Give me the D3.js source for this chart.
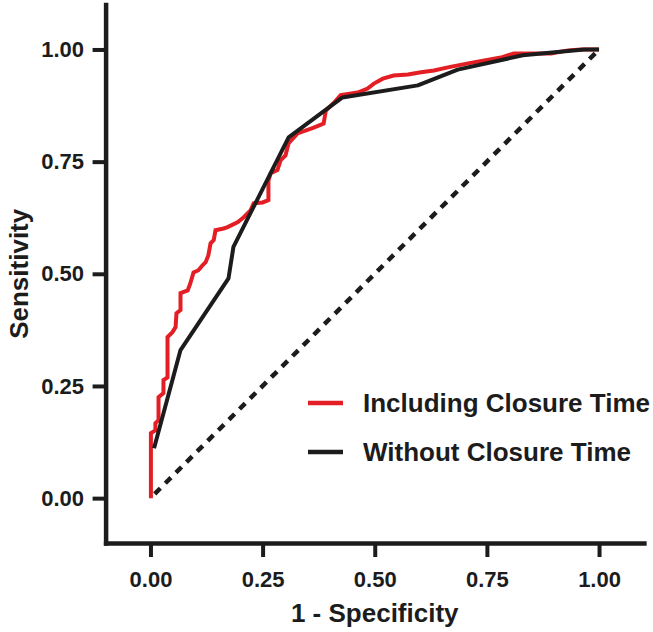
<!DOCTYPE html>
<html>
<head>
<meta charset="utf-8">
<script src="https://cdn.jsdelivr.net/npm/d3@7"></script>
<style>
  body { margin: 0; background: #fff; }
  svg { display: block; font-family: "Liberation Sans", Arial, sans-serif; font-weight: bold; }
</style>
</head>
<body>
<div class="chart"></div>
<script>
// ROC curve, including closure time (staircase vertices)
const includingFpr = [0.001, 0.001, 0.011, 0.011, 0.018, 0.018, 0.029, 0.029, 0.038, 0.038,
  0.049, 0.056, 0.058, 0.067, 0.067, 0.083, 0.089, 0.096, 0.107, 0.116,
  0.123, 0.129, 0.134, 0.141, 0.145, 0.163, 0.172, 0.194, 0.208, 0.223,
  0.230, 0.250, 0.263, 0.263, 0.268, 0.283, 0.290, 0.301, 0.308, 0.328,
  0.364, 0.386, 0.391, 0.408, 0.424, 0.462, 0.484, 0.498, 0.518, 0.542,
  0.574, 0.603, 0.632, 0.663, 0.708, 0.781, 0.810, 0.893, 0.931, 0.960, 1.000];
const includingTpr = [0.000, 0.145, 0.151, 0.167, 0.174, 0.225, 0.234, 0.263, 0.269, 0.359,
  0.370, 0.381, 0.412, 0.419, 0.457, 0.463, 0.479, 0.503, 0.508, 0.519,
  0.526, 0.541, 0.568, 0.575, 0.597, 0.601, 0.604, 0.615, 0.626, 0.641,
  0.657, 0.659, 0.664, 0.708, 0.724, 0.731, 0.753, 0.764, 0.791, 0.813,
  0.826, 0.835, 0.864, 0.880, 0.898, 0.904, 0.913, 0.924, 0.935, 0.942,
  0.944, 0.949, 0.953, 0.960, 0.969, 0.982, 0.991, 0.991, 0.998, 1.000, 1.000];

// ROC curve, without closure time
const withoutFpr = [0.008, 0.067, 0.174, 0.185, 0.308, 0.428, 0.596, 0.685, 0.830, 0.967, 1.000];
const withoutTpr = [0.111, 0.330, 0.490, 0.560, 0.804, 0.893, 0.920, 0.955, 0.987, 1.000, 1.000];

// chance line
const chanceFpr = [0, 1];
const chanceTpr = [0, 1];

const tickValues = [0, 0.25, 0.5, 0.75, 1];
const seriesNames = ["Including Closure Time", "Without Closure Time"];
const seriesColors = ["#e31e24", "#1c1c1c"];

const width = 653, height = 632;
const ink = "#1c1c1c";

const svg = d3.select(".chart").append("svg")
  .attr("width", width)
  .attr("height", height);

// axes run a little past the data range on both ends
const x = d3.scaleLinear().domain([-0.1, 1.1]).range([105.6, 643.9]);
const y = d3.scaleLinear().domain([-0.1, 1.1]).range([543, 4.6]);

const line = d3.line()
  .x(d => x(d[0]))
  .y(d => y(d[1]));

// dashed diagonal
svg.append("path")
  .datum(d3.zip(chanceFpr, chanceTpr))
  .attr("d", line)
  .attr("fill", "none")
  .attr("stroke", ink)
  .attr("stroke-width", 4.5)
  .attr("stroke-dasharray", "8,7")
  .attr("stroke-dashoffset", -6);

// red first, black on top
svg.append("path")
  .datum(d3.zip(includingFpr, includingTpr))
  .attr("d", line)
  .attr("fill", "none")
  .attr("stroke", seriesColors[0])
  .attr("stroke-width", 4)
  .attr("stroke-linejoin", "miter");

svg.append("path")
  .datum(d3.zip(withoutFpr, withoutTpr))
  .attr("d", line)
  .attr("fill", "none")
  .attr("stroke", seriesColors[1])
  .attr("stroke-width", 4)
  .attr("stroke-linejoin", "round");

// axes
const fmt = d3.format(".2f");

const xAxis = svg.append("g")
  .attr("transform", `translate(0,${y(-0.1)})`)
  .call(d3.axisBottom(x).tickValues(tickValues).tickFormat(fmt)
    .tickSize(14).tickSizeOuter(0).tickPadding(14));

const yAxis = svg.append("g")
  .attr("transform", `translate(${x(-0.1)},0)`)
  .call(d3.axisLeft(y).tickValues(tickValues).tickFormat(fmt)
    .tickSize(13).tickSizeOuter(0).tickPadding(8.5));

for (const g of [xAxis, yAxis]) {
  g.select(".domain")
    .attr("stroke", ink)
    .attr("stroke-width", 4.5)
    .attr("stroke-linecap", "square");
  g.selectAll(".tick line")
    .attr("stroke", ink)
    .attr("stroke-width", 4);
  g.selectAll(".tick text")
    .attr("fill", ink)
    .attr("font-family", "'Liberation Sans', Arial, sans-serif")
    .attr("font-weight", "bold")
    .attr("font-size", 22);
}

// axis titles
svg.append("text")
  .attr("x", x(0.5))
  .attr("y", 622)
  .attr("text-anchor", "middle")
  .attr("font-size", 26)
  .attr("fill", ink)
  .text("1 - Specificity");

svg.append("text")
  .attr("transform", `translate(28,${y(0.5)}) rotate(-90)`)
  .attr("text-anchor", "middle")
  .attr("font-size", 26)
  .attr("fill", ink)
  .text("Sensitivity");

// legend
const legend = svg.append("g")
  .attr("transform", "translate(308,403)");

const item = legend.selectAll("g")
  .data(seriesNames)
  .join("g")
  .attr("transform", (d, i) => `translate(0,${i * 49})`);

item.append("line")
  .attr("x1", 0)
  .attr("x2", 35)
  .attr("stroke", (d, i) => seriesColors[i])
  .attr("stroke-width", 4.5);

item.append("text")
  .attr("x", 55)
  .attr("y", 9.3)
  .attr("font-size", 26)
  .attr("fill", ink)
  .text(d => d);
</script>
</body>
</html>
